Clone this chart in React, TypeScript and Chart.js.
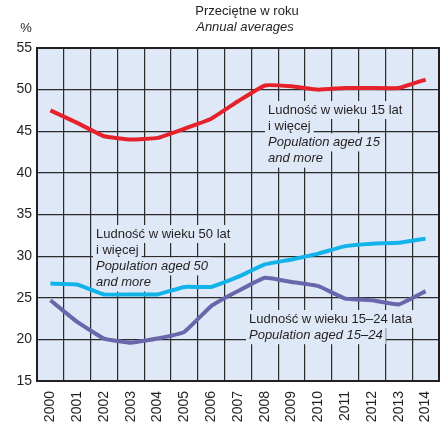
import React, { useEffect, useRef } from "react";
import { Chart, registerables } from "chart.js";

Chart.register(...registerables);

const years = ["2000","2001","2002","2003","2004","2005","2006","2007","2008","2009","2010","2011","2012","2013","2014"];
const aged15plus = [47.5, 46.0, 44.4, 44.0, 44.2, 45.3, 46.5, 48.6, 50.5, 50.4, 50.0, 50.2, 50.2, 50.2, 51.2];
const aged50plus = [26.7, 26.6, 25.4, 25.4, 25.4, 26.3, 26.3, 27.5, 29.0, 29.6, 30.3, 31.2, 31.5, 31.6, 32.1];
const aged15to24 = [24.7, 22.1, 20.1, 19.6, 20.1, 20.9, 24.0, 25.8, 27.4, 26.9, 26.4, 24.9, 24.7, 24.2, 25.8];

const titleLines = ["Przeciętne w roku", "Annual averages"];
const unitLabel = "%";

const label15plus = ["Ludność w wieku 15 lat", "i więcej"];
const label15plusEn = ["Population aged 15", "and more"];
const label50plus = ["Ludność w wieku 50 lat", "i więcej"];
const label50plusEn = ["Population aged 50", "and more"];
const label15to24 = ["Ludność w wieku 15–24 lata"];
const label15to24En = ["Population aged 15–24"];

const FONT = "'Liberation Sans', Arial, sans-serif";
const BG = "#dfe8f6";
const TEXT = "#231f20";

export default function App() {
  const ref = useRef<HTMLCanvasElement | null>(null);

  useEffect(() => {
    if (!ref.current) return;

    const annotations = [
      { x: 8.12, y: 47.55, pl: label15plus, en: label15plusEn },
      { x: 1.70, y: 32.66, pl: label50plus, en: label50plusEn },
      { x: 7.41, y: 22.45, pl: label15to24, en: label15to24En },
    ];

    const plugin = {
      id: "custom",
      beforeDraw(chart: any) {
        const { ctx, chartArea: a } = chart;
        ctx.save();
        ctx.fillStyle = BG;
        ctx.fillRect(a.left, a.top, a.right - a.left, a.bottom - a.top);
        ctx.restore();
      },
      beforeDatasetsDraw(chart: any) {
        const { ctx } = chart;
        const xs = chart.scales.x;
        const ys = chart.scales.y;
        ctx.save();
        ctx.textBaseline = "middle";
        ctx.textAlign = "left";
        for (const an of annotations) {
          const x0 = xs.getPixelForValue(an.x);
          const y0 = ys.getPixelForValue(an.y);
          const lines = [
            ...an.pl.map((t: string) => ({ t, it: false })),
            ...an.en.map((t: string) => ({ t, it: true })),
          ];
          lines.forEach((ln, i) => {
            ctx.font = `${ln.it ? "italic " : ""}13px ${FONT}`;
            const w = ctx.measureText(ln.t).width;
            const y = y0 + i * 16.2;
            ctx.fillStyle = BG;
            ctx.fillRect(x0 - 3, y - 9, w + 6, 18);
          });
          lines.forEach((ln, i) => {
            ctx.font = `${ln.it ? "italic " : ""}13px ${FONT}`;
            const y = y0 + i * 16.2;
            ctx.fillStyle = TEXT;
            ctx.fillText(ln.t, x0, y);
          });
        }
        ctx.restore();
      },
      afterDraw(chart: any) {
        const { ctx, chartArea: a } = chart;
        ctx.save();
        ctx.strokeStyle = "#231f20";
        ctx.lineWidth = 2;
        ctx.strokeRect(a.left, a.top, a.right - a.left, a.bottom - a.top);
        ctx.fillStyle = TEXT;
        ctx.textAlign = "center";
        ctx.textBaseline = "middle";
        ctx.font = `13px ${FONT}`;
        ctx.fillText(titleLines[0], 247, 11);
        ctx.font = `italic 13px ${FONT}`;
        ctx.fillText(titleLines[1], 245, 27);
        ctx.font = `13px ${FONT}`;
        ctx.fillText(unitLabel, 26, 28);
        ctx.restore();
      },
    };

    const chart = new Chart(ref.current, {
      type: "line",
      data: {
        labels: years,
        datasets: [
          { data: aged15plus, borderColor: "#e5222c", borderWidth: 4, pointRadius: 0, tension: 0.1 },
          { data: aged50plus, borderColor: "#12b3e8", borderWidth: 4, pointRadius: 0, tension: 0.1 },
          { data: aged15to24, borderColor: "#6a66ac", borderWidth: 4, pointRadius: 0, tension: 0.1 },
        ],
      },
      options: {
        animation: false,
        responsive: false,
        devicePixelRatio: 1,
        layout: { padding: { left: 0, right: 3, top: 48, bottom: 0 } },
        plugins: { legend: { display: false }, tooltip: { enabled: false }, title: { display: false } },
        scales: {
          x: {
            type: "category",
            offset: true,
            grid: { offset: true, color: "#2b2b2b", lineWidth: 1.2, drawTicks: false },
            border: { display: true, color: "#231f20", width: 2 },
            ticks: {
              minRotation: 90,
              maxRotation: 90,
              autoSkip: false,
              padding: 10,
              color: TEXT,
              font: { family: FONT, size: 14 },
            },
            afterFit(scale: any) {
              scale.height = 43;
              scale.paddingLeft = 0;
              scale.paddingRight = 0;
            },
          },
          y: {
            min: 15,
            max: 55,
            ticks: { stepSize: 5, padding: 5, color: TEXT, font: { family: FONT, size: 14 } },
            grid: { color: "#2b2b2b", lineWidth: 1.2, drawTicks: false },
            border: { display: true, color: "#231f20", width: 2 },
            afterFit(scale: any) {
              scale.width = 37;
              scale.paddingTop = 0;
              scale.paddingBottom = 0;
            },
          },
        },
      },
      plugins: [plugin],
    });
    return () => chart.destroy();
  }, []);

  return (
    <div style={{ position: "fixed", left: 0, top: 0, width: 442, height: 424 }}>
      <canvas ref={ref} width={442} height={424} style={{ width: 442, height: 424 }} />
    </div>
  );
}
